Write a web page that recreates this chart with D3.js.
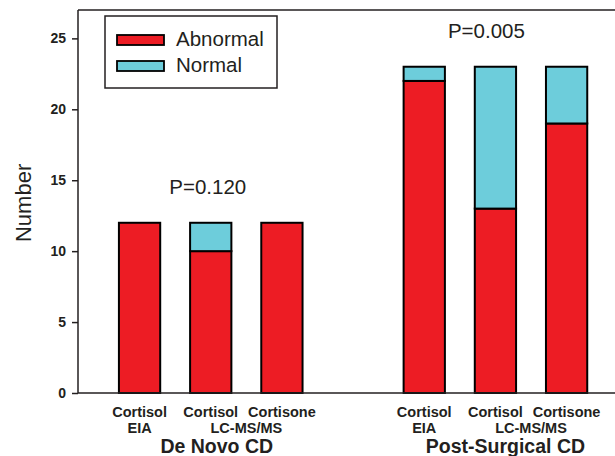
<!DOCTYPE html>
<meta charset="utf-8">
<head>
	<title>Abnormal vs normal by assay</title>
	<script type="text/javascript" src="https://cdn.jsdelivr.net/npm/d3@7"></script>
	<style>
		body { margin: 0; background: #fff; }
		text { font-family: "Liberation Sans", Arial, sans-serif; fill: #231f20; }
		.tick text { font-size: 14px; font-weight: bold; }
		.catlabel { font-size: 14.5px; font-weight: bold; }
		.grouplabel { font-size: 19.5px; font-weight: bold; }
		.pval, .legtext { font-size: 20.5px; }
		.ylabel { font-size: 22px; }
	</style>
</head>
<body>
	<div id="chart"></div>
	<script>
		// data
		var groups = ["De Novo CD", "Post-Surgical CD"];
		var assays = ["Cortisol", "Cortisol", "Cortisone"];
		var methods = [{ text: "EIA", bars: [0] }, { text: "LC-MS/MS", bars: [1, 2] }];
		var abnormal = [[12, 10, 12], [22, 13, 19]];
		var normal = [[0, 2, 0], [1, 10, 4]];
		var pValues = ["P=0.120", "P=0.005"];
		var series = ["Abnormal", "Normal"];
		var colors = ["#ed1c24", "#6dcddb"];
		var yTicks = [0, 5, 10, 15, 20, 25];

		var width = 615, height = 456;
		// plot edges (note: "top" is reserved on window)
		var plotL = 78, plotR = 615, plotT = 10, plotB = 393;

		var svg = d3.select("#chart").append("svg")
			.attr("width", width)
			.attr("height", height);

		// slot = group*4 + bar, leaves an empty slot between groups
		var x = d3.scaleLinear().domain([-0.865, 6.68]).range([plotL, plotR]);
		var y = d3.scaleLinear().domain([0, 27]).range([plotB, plotT]);
		var barW = x(0.29) - x(-0.29);

		var bars = [];
		groups.forEach(function (g, gi) {
			assays.forEach(function (a, bi) {
				var slot = gi * 4 + bi;
				bars.push({ slot: slot, y0: 0, y1: abnormal[gi][bi], s: 0 });
				if (normal[gi][bi] > 0) {
					bars.push({ slot: slot, y0: abnormal[gi][bi], y1: abnormal[gi][bi] + normal[gi][bi], s: 1 });
				}
			});
		});

		svg.selectAll("rect.bar")
			.data(bars)
			.enter()
			.append("rect")
			.attr("class", "bar")
			.attr("x", function (d) { return x(d.slot) - barW / 2; })
			.attr("width", barW)
			.attr("y", function (d) { return y(d.y1); })
			.attr("height", function (d) { return y(d.y0) - y(d.y1); })
			.attr("fill", function (d) { return colors[d.s]; })
			.attr("stroke", "#000")
			.attr("stroke-width", 2);

		// axes
		var yAxis = svg.append("g")
			.attr("transform", "translate(" + plotL + ",0)")
			.call(d3.axisLeft(y).tickValues(yTicks).tickSize(6).tickPadding(6));
		yAxis.select(".domain").remove();
		yAxis.selectAll(".tick line").attr("stroke", "#231f20").attr("stroke-width", 1.5);

		var frame = svg.append("g").attr("fill", "none").attr("stroke", "#231f20").attr("stroke-width", 1.5);
		frame.append("line").attr("x1", plotL).attr("x2", plotL).attr("y1", plotT).attr("y2", plotB);
		frame.append("line").attr("x1", plotL).attr("x2", plotR).attr("y1", plotB).attr("y2", plotB);
		frame.append("line").attr("x1", plotL).attr("x2", plotR).attr("y1", plotT).attr("y2", plotT);

		svg.append("text")
			.attr("class", "ylabel")
			.attr("transform", "translate(31," + (y(13.4)) + ") rotate(-90)")
			.attr("text-anchor", "middle")
			.text("Number");

		// category labels
		groups.forEach(function (g, gi) {
			assays.forEach(function (a, bi) {
				svg.append("text")
					.attr("class", "catlabel")
					.attr("x", x(gi * 4 + bi))
					.attr("y", plotB + 23.5)
					.attr("text-anchor", "middle")
					.text(a);
			});
			methods.forEach(function (m) {
				var cx = d3.mean(m.bars, function (b) { return x(gi * 4 + b); });
				svg.append("text")
					.attr("class", "catlabel")
					.attr("x", cx)
					.attr("y", plotB + 39.5)
					.attr("text-anchor", "middle")
					.text(m.text);
			});
			svg.append("text")
				.attr("class", "grouplabel")
				.attr("x", x(gi * 4 + 1) + 6 + gi * 4)
				.attr("y", plotB + 60)
				.attr("text-anchor", "middle")
				.text(g);

			var maxV = d3.max(abnormal[gi].map(function (v, i) { return v + normal[gi][i]; }));
			svg.append("text")
				.attr("class", "pval")
				.attr("x", x(gi * 4 + 1) - 3 - gi * 6)
				.attr("y", y(maxV + 2))
				.attr("text-anchor", "middle")
				.text(pValues[gi]);
		});

		// legend
		var legend = svg.append("g").attr("transform", "translate(105,16)");
		legend.append("rect")
			.attr("width", 172).attr("height", 72)
			.attr("fill", "#fff").attr("stroke", "#231f20").attr("stroke-width", 1.5);
		series.forEach(function (s, i) {
			legend.append("rect")
				.attr("x", 12).attr("y", 19 + i * 26)
				.attr("width", 47).attr("height", 10)
				.attr("fill", colors[i]).attr("stroke", "#000").attr("stroke-width", 1.8);
			legend.append("text")
				.attr("class", "legtext")
				.attr("x", 71).attr("y", 30 + i * 26)
				.text(s);
		});
	</script>
</body>
</html>
